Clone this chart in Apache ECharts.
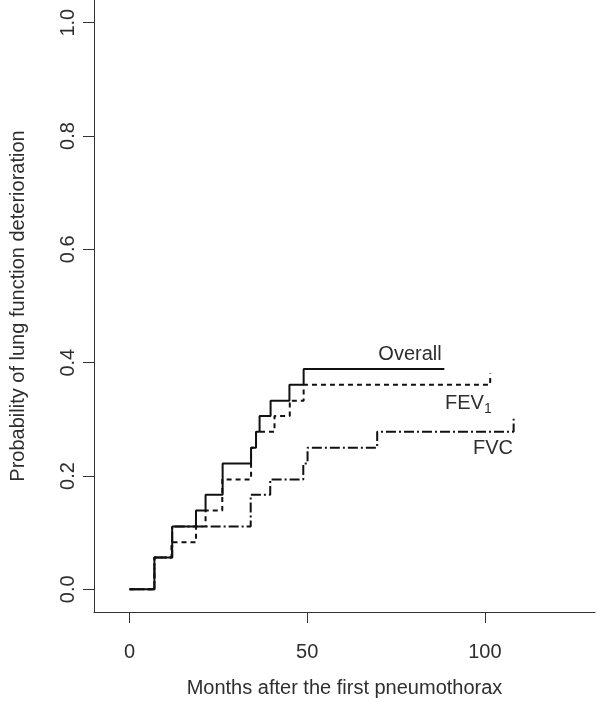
<!DOCTYPE html>
<html>
<head>
<meta charset="utf-8">
<script src="https://cdn.jsdelivr.net/npm/echarts@6/dist/echarts.min.js"></script>
<style>html,body{margin:0;padding:0;background:#fff;}#c{width:597px;height:706px;}</style>
</head>
<body>
<div id="c"></div>
<script>
// Kaplan-Meier style cumulative probabilities (months, probability)
var overallMonths = [0, 7.0, 12.0, 18.7, 21.4, 26.2, 34.2, 35.6, 36.6, 39.7, 45.0, 49.0, 88.6];
var overallProb   = [0, 0.056, 0.111, 0.139, 0.167, 0.222, 0.250, 0.278, 0.306, 0.333, 0.361, 0.389, 0.389];

var fev1Months = [0, 7.0, 11.8, 18.7, 21.4, 26.1, 34.2, 35.6, 40.8, 45.1, 49.0, 101.5];
var fev1Prob   = [0, 0.056, 0.083, 0.111, 0.139, 0.194, 0.250, 0.278, 0.306, 0.333, 0.361, 0.381];

var fvcMonths = [0, 7.0, 12.0, 34.1, 39.6, 48.9, 50.1, 69.7, 108.1];
var fvcProb   = [0, 0.056, 0.111, 0.167, 0.194, 0.222, 0.250, 0.278, 0.301];

var xTicks = [0, 50, 100];
var yTicks = [0, 0.2, 0.4, 0.6, 0.8, 1.0];

function pairs(xs, ys) { return xs.map(function (x, i) { return [x, ys[i]]; }); }

var FONT = 'Liberation Sans, Arial, sans-serif';
var TXT = '#2e2e2e';
var chart = echarts.init(document.getElementById('c'), null, {renderer: 'canvas'});
chart.setOption({
  animation: false,
  backgroundColor: '#fff',
  grid: {left: 90, right: 2, top: 0, bottom: 94, containLabel: false},
  xAxis: {
    type: 'value', min: -10, max: 131,
    name: 'Months after the first pneumothorax', nameLocation: 'middle', nameGap: 66,
    nameTextStyle: {fontSize: 20, color: TXT, fontFamily: FONT},
    axisLine: {show: true, onZero: false, lineStyle: {color: '#333', width: 1}},
    axisTick: {show: true, length: 11, customValues: xTicks, lineStyle: {color: '#333'}},
    axisLabel: {customValues: xTicks, fontSize: 20, color: TXT, fontFamily: FONT, margin: 30},
    splitLine: {show: false}
  },
  yAxis: {
    type: 'value', min: -0.04, max: 1.04,
    name: 'Probability of lung function deterioration', nameLocation: 'middle', nameGap: 66,
    nameTextStyle: {fontSize: 20, color: TXT, fontFamily: FONT},
    axisLine: {show: true, onZero: false, lineStyle: {color: '#333', width: 1}},
    axisTick: {show: true, length: 11, customValues: yTicks, lineStyle: {color: '#333'}},
    axisLabel: {customValues: yTicks, rotate: 90, fontSize: 20, color: TXT, fontFamily: FONT, margin: 16,
      formatter: function (v) { return v.toFixed(1); }},
    splitLine: {show: false}
  },
  series: [
    {name: 'Overall', type: 'line', step: 'end', data: pairs(overallMonths, overallProb), symbol: 'none',
      lineStyle: {color: '#111', width: 2, type: 'solid'}, z: 3},
    {name: 'FEV1', type: 'line', step: 'end', data: pairs(fev1Months, fev1Prob), symbol: 'none',
      lineStyle: {color: '#111', width: 2, type: [5, 4]}, z: 2},
    {name: 'FVC', type: 'line', step: 'end', data: pairs(fvcMonths, fvcProb), symbol: 'none',
      lineStyle: {color: '#111', width: 2, type: [10, 3, 2, 3]}, z: 1}
  ],
  graphic: [
    {type: 'text', x: 410, y: 354, style: {text: 'Overall', fontSize: 20, fill: TXT, fontFamily: FONT, align: 'center', verticalAlign: 'middle'}},
    {type: 'text', x: 445, y: 402, style: {text: '{a|FEV}{s|1}', fontFamily: FONT, verticalAlign: 'middle', align: 'left',
      rich: {a: {fontSize: 20, fill: TXT, fontFamily: FONT, lineHeight: 22, verticalAlign: 'bottom'},
             s: {fontSize: 14, fill: TXT, fontFamily: FONT, lineHeight: 22, verticalAlign: 'bottom', padding: [0, 0, -3, 0]}}}},
    {type: 'text', x: 493, y: 448, style: {text: 'FVC', fontSize: 20, fill: TXT, fontFamily: FONT, align: 'center', verticalAlign: 'middle'}}
  ]
});
</script>
</body>
</html>
